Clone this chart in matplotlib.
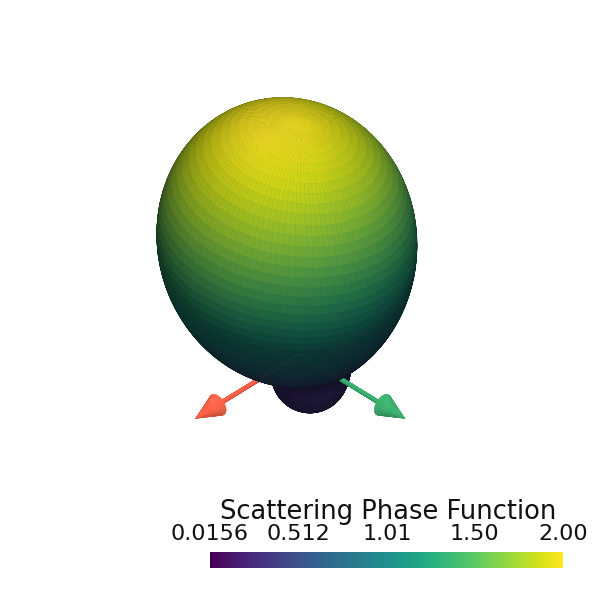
import numpy as np
import matplotlib
matplotlib.use("Agg")
import matplotlib.pyplot as plt
from mpl_toolkits.mplot3d.art3d import Poly3DCollection
from matplotlib import colors as mcolors

# ---- data / text ----
title = "Scattering Phase Function"
vmin, vmax = 0.0156, 2.00
tick_values = [0.0156, 0.512, 1.01, 1.50, 2.00]
tick_labels = ["0.0156", "0.512", "1.01", "1.50", "2.00"]
arrow_colors = ["#ff6347", "#3cb371"]
arrow_dirs = [(1.0, 0.0, 0.0), (0.0, 1.0, 0.0)]
arrow_length = 1.0

# phase function: forward lobe 2*((1+mu_f)/2)^p plus a small backward lobe
forward_power = 3.2
back_weight, back_power = 0.45, 1.5
forward_tilt_deg = 6.0      # toward screen left
back_tilt_deg = 20.0        # back lobe leans toward screen right
n_theta, n_phi = 90, 120
theta = np.linspace(0.0, np.pi, n_theta)
phi = np.linspace(0.0, 2 * np.pi, n_phi)

ELEV, AZIM = 38, 45

u_left = np.array([1.0, -1.0, 0.0]) / np.sqrt(2)
zhat = np.array([0.0, 0.0, 1.0])
tf, tb = np.radians(forward_tilt_deg), np.radians(back_tilt_deg)
f_axis = np.cos(tf) * zhat + np.sin(tf) * u_left
b_axis = -np.cos(tb) * zhat - np.sin(tb) * u_left

def phase(dirs):
    mu_f = dirs @ f_axis
    mu_b = dirs @ b_axis
    return (2.0 * ((1 + mu_f) / 2) ** forward_power
            + back_weight * np.clip((1 + mu_b) / 2, 0, 1) ** back_power)

T, P = np.meshgrid(theta, phi, indexing="ij")
dirs = np.stack([np.sin(T) * np.cos(P), np.sin(T) * np.sin(P), np.cos(T)], axis=-1)
R = phase(dirs)
pts = dirs * R[..., None]

cmap = plt.get_cmap("viridis")
norm = mcolors.Normalize(vmin=vmin, vmax=vmax)

def unit(v):
    v = np.asarray(v, float)
    return v / np.linalg.norm(v, axis=-1, keepdims=True)

e, a = np.radians(ELEV), np.radians(AZIM)
cam = np.array([np.cos(e) * np.cos(a), np.cos(e) * np.sin(a), np.sin(e)])
ek, ak = np.radians(ELEV + 36), np.radians(AZIM + 12)
key = np.array([np.cos(ek) * np.cos(ak), np.cos(ek) * np.sin(ak), np.sin(ek)])

def shade(normals):
    n = unit(normals)
    s = np.sign(np.sum(n * cam, axis=-1, keepdims=True))
    s[s == 0] = 1
    n = n * s
    d = np.clip(np.sum(n * key, axis=-1), 0, 1)
    h = np.clip(np.sum(n * cam, axis=-1), 0, 1)
    return np.clip(0.27 + 0.56 * d + 0.14 * h, 0, 0.93)

polys, fcols = [], []
v0 = pts[:-1, :-1]; v1 = pts[1:, :-1]; v2 = pts[1:, 1:]; v3 = pts[:-1, 1:]
quads = np.stack([v0, v1, v2, v3], axis=2).reshape(-1, 4, 3)
nrm = np.cross(v2 - v0, v3 - v1).reshape(-1, 3)
nrm[np.linalg.norm(nrm, axis=1) < 1e-12] = cam
val = (R[:-1, :-1] + R[1:, :-1] + R[1:, 1:] + R[:-1, 1:]).reshape(-1) / 4
base = cmap(norm(val))[:, :3]
inten = shade(nrm)[:, None]
polys.extend(list(quads))
fcols.extend(list(np.clip(base * inten, 0, 1)))

def arrow(d, L, color, rs=0.013, rc=0.08, lc=0.21, nseg=28):
    d = unit(d)
    tmp = np.array([0, 0, 1.0]) if abs(d[2]) < 0.9 else np.array([1.0, 0, 0])
    u = unit(np.cross(d, tmp)); w = np.cross(d, u)
    ang = np.linspace(0, 2 * np.pi, nseg + 1)
    ring = np.cos(ang)[:, None] * u + np.sin(ang)[:, None] * w
    ps, cs = [], []
    rgb = np.array(mcolors.to_rgb(color))
    Ls = L - lc
    for k in range(nseg):
        q = [rs * ring[k], rs * ring[k + 1], rs * ring[k + 1] + Ls * d, rs * ring[k] + Ls * d]
        nn = (ring[k] + ring[k + 1]) / 2
        ps.append(np.array(q)); cs.append(rgb * (0.68 + 0.36 * shade(nn[None])[0]))
        tip = L * d
        q = [Ls * d + rc * ring[k], Ls * d + rc * ring[k + 1], tip, tip]
        nn = unit((ring[k] + ring[k + 1]) / 2 * lc + d * rc)
        ps.append(np.array(q)); cs.append(rgb * (0.68 + 0.36 * shade(nn[None])[0]))
    return ps, cs

for dvec, col in zip(arrow_dirs, arrow_colors):
    ps, cs = arrow(dvec, arrow_length, col)
    polys.extend(ps); fcols.extend([np.clip(x, 0, 1) for x in cs])

fig = plt.figure(figsize=(6, 6), dpi=100)
ax = fig.add_axes([0, 0, 1, 1], projection="3d")
ax.set_proj_type("ortho")
ax.view_init(elev=ELEV, azim=AZIM)
coll = Poly3DCollection(polys, facecolors=fcols, edgecolors=fcols, linewidths=0.3)
ax.add_collection3d(coll)
c = 1.21
cx, cy, cz = -0.038, 0.038, 0.535
ax.set_xlim(cx - c, cx + c); ax.set_ylim(cy - c, cy + c); ax.set_zlim(cz - c, cz + c)
ax.set_box_aspect((1, 1, 1))
ax.set_axis_off()

# ---- scalar bar ----
FONT = ["DejaVu Sans"]
cax = fig.add_axes([210 / 600, 1 - 568 / 600, 353 / 600, 16 / 600])
cb = matplotlib.colorbar.ColorbarBase(cax, cmap=cmap, norm=norm, orientation="horizontal")
cb.outline.set_visible(False)
cax.xaxis.set_ticks_position("top")
cb.set_ticks(tick_values, labels=tick_labels)
cax.tick_params(axis="x", length=0, pad=5.5)
for lab in cax.get_xticklabels():
    lab.set_fontfamily(FONT); lab.set_fontsize(16); lab.set_color("#111111")
fig.text(388 / 600, 1 - 519 / 600, title, ha="center", va="baseline",
         fontsize=18.5, family=FONT, color="#111111")

fig.savefig("out.png", dpi=100, facecolor="white")
